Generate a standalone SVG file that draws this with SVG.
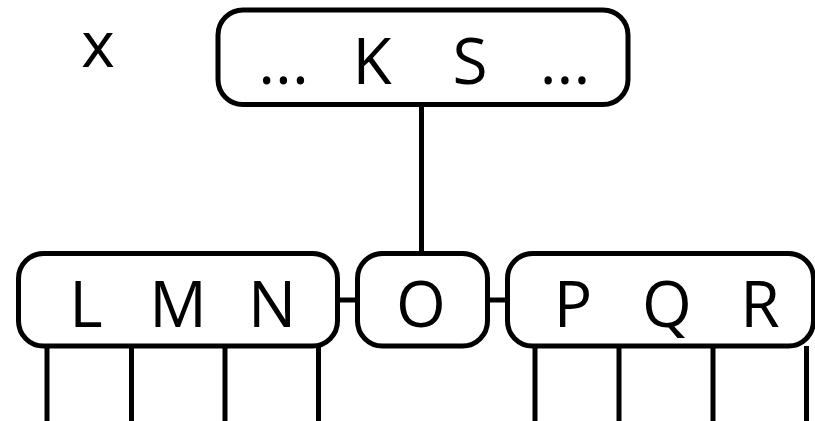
<svg xmlns="http://www.w3.org/2000/svg" width="815" height="421" viewBox="0 0 815 421">
<style>
.box{fill:#fff;stroke:#000;stroke-width:5}
.ln{stroke:#000;stroke-width:5;fill:none}
text{font-family:"Open Sans","Noto Sans",sans-serif;font-size:64px;fill:#000;text-anchor:middle}
</style>
<rect width="815" height="421" fill="#fff"/>
<text x="98" y="67">x</text>
<g id="connectors">
<line class="ln" x1="421.5" y1="104" x2="421.5" y2="254"/>
<line class="ln" x1="337" y1="300" x2="358" y2="300"/>
<line class="ln" x1="487" y1="300" x2="508" y2="300"/>
<line class="ln" x1="47" y1="346" x2="47" y2="421"/>
<line class="ln" x1="131.5" y1="346" x2="131.5" y2="421"/>
<line class="ln" x1="225" y1="346" x2="225" y2="421"/>
<line class="ln" x1="318.5" y1="346" x2="318.5" y2="421"/>
<line class="ln" x1="535" y1="346" x2="535" y2="421"/>
<line class="ln" x1="619" y1="346" x2="619" y2="421"/>
<line class="ln" x1="713" y1="346" x2="713" y2="421"/>
<line class="ln" x1="806.5" y1="346" x2="806.5" y2="421"/>
</g>
<g id="top">
<rect class="box" x="218" y="10" width="410" height="94.5" rx="25"/>
<text x="283.5" y="83.5">...</text>
<text x="372" y="83.5">K</text>
<text x="470" y="83.5">S</text>
<text x="565" y="83.5">...</text>
</g>
<g id="left">
<rect class="box" x="18.5" y="253.5" width="319" height="92.5" rx="25"/>
<text x="86" y="327">L</text>
<text x="178" y="327">M</text>
<text x="272" y="327">N</text>
</g>
<g id="mid">
<rect class="box" x="357.5" y="253.5" width="130" height="92.5" rx="25"/>
<text x="421" y="327">O</text>
</g>
<g id="right">
<rect class="box" x="507.5" y="253.5" width="306" height="92.5" rx="25"/>
<text x="573" y="327">P</text>
<text x="667" y="327">Q</text>
<text x="760" y="327">R</text>
</g>
</svg>
